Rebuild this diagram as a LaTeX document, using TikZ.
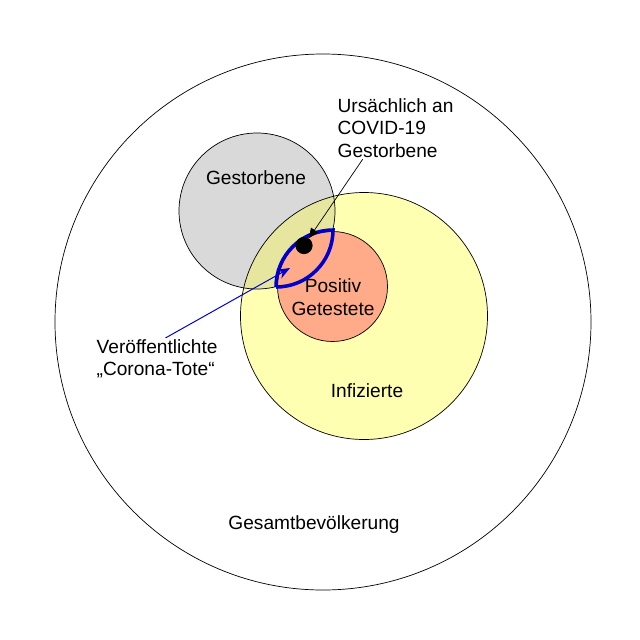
\documentclass[tikz,border=0pt]{standalone}
\usepackage{fontspec}
\setmainfont{Liberation Sans}
\usetikzlibrary{positioning,arrows.meta}
\definecolor{setgray}{RGB}{217,217,217}
\definecolor{setyellow}{RGB}{255,255,178}
\definecolor{setolive}{RGB}{230,230,158}
\definecolor{setsalmon}{RGB}{255,170,136}
\definecolor{setblue}{RGB}{0,0,204}

\tikzset{
  rand/.style={draw=black,line width=0.5pt},
  label/.style={inner sep=1pt,align=center},
  pfeil/.style={black,line width=0.5pt,-{Triangle[length=7pt,width=6pt]}},
  bluepfeil/.style={setblue,line width=0.7pt,-{Stealth[length=9pt,width=7pt,inset=3pt]}},
  lens/.style={setblue,line width=2.5pt}
}

\begin{document}
\begin{tikzpicture}[x=0.025cm,y=-0.025cm,font=\fontsize{13.6}{16}\selectfont]
  \useasboundingbox (0,0) rectangle (640,640);
  % Mengen
  \draw[rand,fill=white] (323,322) circle (268);
  \fill[setgray] (257,211) circle (78);
  \fill[setyellow] (364,316) circle (123.5);
  \begin{scope}
    \clip (257,211) circle (78);
    \fill[setolive] (364,316) circle (123.5);
  \end{scope}
  \draw[rand] (257,211) circle (78);
  \draw[rand] (364,316) circle (123.5);
  \draw[rand,fill=setsalmon] (332.5,286.5) circle (55);

  % Beschriftungen
  \node[label] (gestorben) at (256,178) {Gestorbene};
  \node[label] (positiv) at (333,297) {Positiv\\Getestete};
  \node[label] (infiziert) at (367,391) {Infizierte};
  \node[label] (gesamt) at (314,525) {Gesamtbevölkerung};
  \node[label,align=left,anchor=west] (ursache) at (336,128)
    {Ursächlich an\\COVID-19\\Gestorbene};
  \node[label,align=left,anchor=west] (veroeff) at (95,359)
    {Veröffentlichte\\„Corona-Tote“};

  % Linse und Punkt
  \coordinate (lensA) at (276,287);
  \coordinate (lensB) at (333,230);
  \draw[lens] (lensA) to[bend left=45] (lensB) to[bend left=45] (lensA);
  \node[circle,fill=black,inner sep=0pt,minimum size=0.43cm] (tod) at (304,245.5) {};
  \coordinate (lensziel) at (290,268);

  % Pfeile
  \draw[pfeil] ([xshift=19pt]ursache.south west) -- (tod);
  \draw[bluepfeil] ([xshift=6pt]veroeff.north) -- (lensziel);
\end{tikzpicture}
\end{document}
